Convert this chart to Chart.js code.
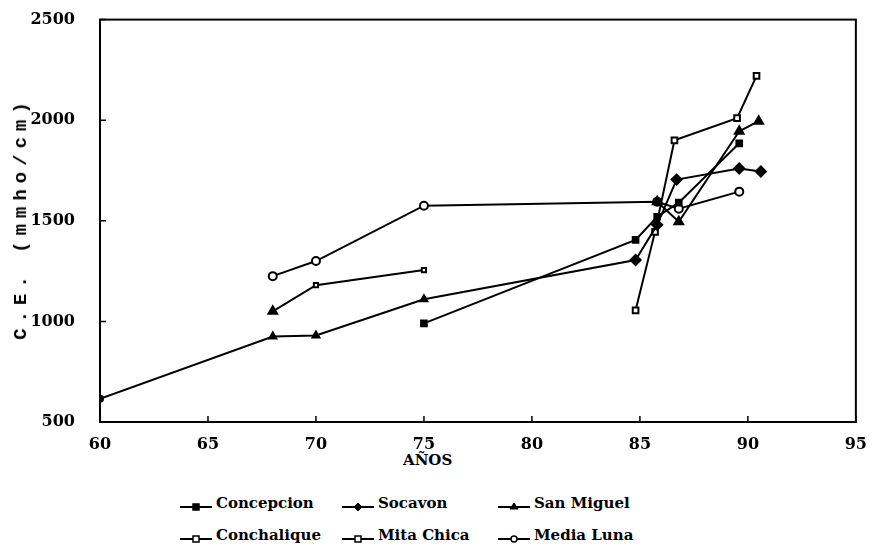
<!DOCTYPE html>
<html>
<head>
<meta charset="utf-8">
<script src="https://cdn.jsdelivr.net/npm/chart.js@4"></script>
<style>
  body { margin:0; background:#fff; width:872px; height:555px; position:relative; overflow:hidden; }
  #wrap { position:absolute; left:0; top:-7px; width:872px; height:457px; }
  .xtitle { position:absolute; left:403px; top:451px; font-family:"DejaVu Serif",serif; font-weight:bold; font-size:15px; color:#000; }
  .ytitle { position:absolute; left:21px; top:218px; transform:translate(-50%,-50%) rotate(-90deg); white-space:nowrap;
            font-family:"Liberation Mono","DejaVu Sans Mono",monospace; font-weight:bold; font-size:19px; letter-spacing:6px; color:#000; }
  .leg { position:absolute; font-family:"DejaVu Serif",serif; font-weight:bold; font-size:15px; color:#000; white-space:nowrap; }
  .leg svg { vertical-align:-4px; margin-right:2px; }
</style>
</head>
<body>
<div id="wrap"><canvas id="chart" width="872" height="457"></canvas></div>
<div class="xtitle">AÑOS</div>
<div class="ytitle">C.E. (mmho/cm)</div>
<div id="legend"></div>
<script>
// Data (x = year, y = C.E. in mmho/cm)
const seriesNames = ['Concepcion', 'Socavon', 'San Miguel', 'Conchalique', 'Mita Chica', 'Media Luna'];

const concepcionYears  = [75, 84.8, 85.8, 86.8, 89.6];
const concepcionCE     = [990, 1405, 1520, 1590, 1885];

const socavonYears     = [60, 68, 70, 75, 84.8, 85.8, 86.7, 89.6, 90.6];
const socavonCE        = [615, 925, 930, 1110, 1305, 1480, 1705, 1760, 1745];

const sanMiguelYears   = [85.8, 86.8, 89.6, 90.5];
const sanMiguelCE      = [1595, 1495, 1945, 1995];

const conchaliqueYears = [84.8, 85.7, 86.6, 89.5, 90.4];
const conchaliqueCE    = [1055, 1445, 1900, 2010, 2220];

const mitaChicaYears   = [68, 70, 75];
const mitaChicaCE      = [1050, 1180, 1255];

const mediaLunaYears   = [68, 70, 75, 85.8, 86.8, 89.6];
const mediaLunaCE      = [1225, 1300, 1575, 1595, 1560, 1645];

const yTicks = [500, 1000, 1500, 2000, 2500];
const xTicks = [60, 65, 70, 75, 80, 85, 90, 95];

function pts(xs, ys) { return xs.map((x, i) => ({ x: x, y: ys[i] })); }

// marker styles: [pointStyle, filled, radius]
const markers = [
    ['rect', true, 4],
    ['rectRot', true, 5],
    ['triangle', true, 5],
    ['rect', false, 4],
    ['rect', false, 3],
    ['circle', false, 4]
];
const allYears = [concepcionYears, socavonYears, sanMiguelYears, conchaliqueYears, mitaChicaYears, mediaLunaYears];
const allCE    = [concepcionCE, socavonCE, sanMiguelCE, conchaliqueCE, mitaChicaCE, mediaLunaCE];

const datasets = seriesNames.map((name, i) => ({
    label: name,
    data: pts(allYears[i], allCE[i]),
    borderColor: '#000',
    borderWidth: 2,
    backgroundColor: markers[i][1] ? '#000' : '#fff',
    pointStyle: markers[i][0],
    pointRadius: markers[i][2],
    pointBorderWidth: 2,
    pointBorderColor: '#000',
    tension: 0
}));
// the old Socavon points show up as small triangles in the print
datasets[1].pointStyle = ['circle', 'triangle', 'triangle', 'triangle', 'rectRot', 'rectRot', 'rectRot', 'rectRot', 'rectRot'];
datasets[1].pointRadius = [3, 4, 4, 4, 5, 5, 5, 5, 5];
// first Mita Chica point is drawn as a filled triangle
datasets[4].pointStyle = ['triangle', 'rect', 'rect'];
datasets[4].pointBackgroundColor = ['#000', '#fff', '#fff'];
datasets[4].pointRadius = [5, 3, 3];

// frame box + inward ticks
const framePlugin = {
    id: 'frame',
    afterDraw(chart) {
        const { ctx, chartArea: a, scales } = chart;
        ctx.save();
        ctx.strokeStyle = '#000';
        ctx.lineWidth = 2;
        ctx.strokeRect(a.left, a.top, a.right - a.left, a.bottom - a.top);
        ctx.lineWidth = 1.5;
        ctx.beginPath();
        yTicks.forEach(v => {
            const y = scales.y.getPixelForValue(v);
            ctx.moveTo(a.left, y); ctx.lineTo(a.left + 6, y);
        });
        xTicks.forEach(v => {
            const x = scales.x.getPixelForValue(v);
            ctx.moveTo(x, a.bottom); ctx.lineTo(x, a.bottom - 6);
        });
        ctx.stroke();
        ctx.restore();
    }
};

const tickFont = { family: "'DejaVu Serif', serif", size: 16, weight: 'bold' };

new Chart(document.getElementById('chart'), {
    type: 'line',
    data: { datasets: datasets },
    options: {
        responsive: false,
        animation: false,
        layout: { padding: { top: 0, right: 14, left: 0, bottom: 0 } },
        plugins: { legend: { display: false }, tooltip: { enabled: false } },
        scales: {
            x: {
                type: 'linear', min: 60, max: 95,
                afterBuildTicks: s => { s.ticks = xTicks.map(v => ({ value: v })); },
                afterFit: s => { s.height = 28; },
                grid: { display: false },
                border: { display: false },
                ticks: { color: '#000', font: tickFont, padding: 5, maxRotation: 0, callback: v => String(v) }
            },
            y: {
                min: 500, max: 2500,
                afterBuildTicks: s => { s.ticks = yTicks.map(v => ({ value: v })); },
                afterFit: s => { s.width = 100; },
                grid: { display: false },
                border: { display: false },
                ticks: { color: '#000', font: tickFont, padding: 17, callback: v => String(v) }
            }
        }
    },
    plugins: [framePlugin]
});

// Legend laid out 3 x 2 as in the original
const legPos = [[180, 494], [342, 494], [498, 494], [180, 526], [342, 526], [498, 526]];
const legEl = document.getElementById('legend');
seriesNames.forEach((name, i) => {
    const [style, filled] = markers[i];
    const fill = filled ? '#000' : '#fff';
    let m;
    if (style === 'circle') m = `<circle cx="16" cy="13" r="3" fill="${fill}" stroke="#000" stroke-width="1.5"/>`;
    else if (style === 'rectRot') m = `<polygon points="16,9 20,13 16,17 12,13" fill="${fill}" stroke="#000" stroke-width="1"/>`;
    else if (style === 'triangle') m = `<polygon points="16,9 20,15 12,15" fill="${fill}" stroke="#000" stroke-width="1"/>`;
    else m = `<rect x="13" y="10" width="6" height="6" fill="${fill}" stroke="#000" stroke-width="1.5"/>`;
    const d = document.createElement('div');
    d.className = 'leg';
    d.style.left = legPos[i][0] + 'px';
    d.style.top = legPos[i][1] + 'px';
    d.innerHTML = `<svg width="34" height="18"><line x1="0" y1="13" x2="32" y2="13" stroke="#000" stroke-width="2"/>${m}</svg>${name}`;
    legEl.appendChild(d);
});
</script>
</body>
</html>
